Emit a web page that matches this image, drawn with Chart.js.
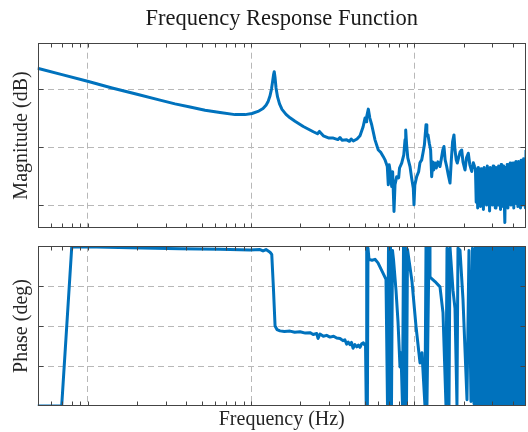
<!DOCTYPE html>
<html>
<head>
<meta charset="utf-8">
<script src="https://cdn.jsdelivr.net/npm/chart.js@4.4.0/dist/chart.umd.min.js"></script>
<style>
  html, body { margin: 0; padding: 0; background: #fff; overflow: hidden; }
  canvas { position: absolute; left: 0; }
</style>
</head>
<body>
<canvas id="mag" width="528" height="236" style="top:0"></canvas>
<canvas id="phase" width="528" height="196" style="top:236px"></canvas>
<script>
// magnitude (dB) vs frequency (Hz), below the noisy tail
const magFreq = [0.494, 0.698, 1.0, 1.412, 2.008, 2.776, 3.428, 4.234, 5.232, 6.462,
  7.985, 9.19, 10.14, 11.035, 11.84, 12.35, 12.7, 13.07, 13.35, 13.54,
  13.73, 13.87, 14.03, 14.22, 14.53, 14.94, 15.47, 16.37, 17.32, 18.58,
  20.88, 24.04, 25.5, 26.2, 27.69, 30, 31.87, 34, 35, 36,
  38.48, 40, 41, 42.24, 44.5, 46.42, 48.5, 49.81, 50.6, 51.0,
  52.18, 53.3, 54.73, 57.33, 60.06, 62, 64.45, 66, 68.17, 69.15,
  70, 70.83, 72.55, 73.5, 74.93, 76, 77.84, 80, 81, 83.5,
  86, 87.5, 88.37, 89.5, 91, 93.87, 96, 98.33, 99.3, 100.5,
  103.1, 106, 108, 110.7, 113, 115, 117.6, 119, 121, 123.2,
  125.5, 127.4, 129.5, 131, 133.5, 136, 139, 143.2, 146, 149,
  151.5, 154, 157.4, 161, 164.9, 168, 171, 174.4, 177, 180,
  182.7, 186, 190, 194.4, 198, 203.7, 208, 213.4, 218, 223.9,
  229, 233];
const magDb = [-12.8, -15.0, -17.3, -19.6, -21.8, -23.8, -25.1, -26.2, -27.3, -28.1,
  -28.8, -28.8, -28.4, -27.7, -26.7, -25.6, -24.4, -22.3, -19.9, -17.5,
  -15.1, -14.0, -16.1, -19.6, -22.7, -25.1, -27.0, -28.7, -29.9, -31.1,
  -32.9, -34.7, -35.4, -34.6, -36.1, -36.9, -36.9, -37.4, -36.7, -37.6,
  -37.5, -38.0, -37.2, -37.9, -37.2, -36.1, -33.0, -30.0, -31.3, -29.5,
  -26.9, -30.0, -32.3, -37.5, -41.0, -41.7, -43.3, -44.4, -46.7, -53.0,
  -46.1, -47.9, -53.6, -48.5, -62.2, -53.0, -50.2, -50.6, -47.2, -45.5,
  -42.7, -37.5, -34.1, -39.2, -43.7, -46.7, -50.6, -54.2, -59.9, -53.0,
  -50.2, -48.5, -45.4, -44.4, -41.7, -39.2, -32.3, -36.1, -35.8, -38.7,
  -41.0, -50.2, -45.1, -47.9, -45.5, -47.2, -45.1, -46.7, -44.0, -41.0,
  -39.8, -44.4, -46.7, -49.6, -52.4, -44.4, -38.2, -35.8, -41.0, -44.4,
  -45.5, -43.7, -41.7, -41.0, -45.1, -47.9, -43.7, -42.1, -46.1, -48.4,
  -45.4, -46.7];

// noisy high-frequency tail, shared frequency points
const bandFreq = [236, 238.5, 241, 243.5, 246, 248.5, 251, 253.5, 256, 258.5,
  261, 264, 267, 270, 273, 276, 279, 282, 285, 288,
  291, 294, 297, 300, 303, 306, 309, 312, 315, 318,
  321, 324, 327, 330, 333, 336, 339, 342, 345, 348,
  351, 354, 357, 361, 365, 369, 373, 377, 381, 385,
  389, 393, 397, 401, 405, 409, 413, 417, 421, 425,
  429, 433, 437, 441, 445, 449, 453, 457, 461, 465,
  469, 473, 477, 481];
const bandDb = [-47.5, -59, -48.5, -61, -47, -56, -49, -60.5, -47.5, -58,
  -48, -61.5, -47, -57.5, -49, -60, -46.5, -59, -48, -62,
  -47, -57, -48.5, -60, -46.5, -58.5, -48, -61, -47, -56.5,
  -48, -60, -46.5, -58, -47.5, -61.5, -46, -57, -48, -60.5,
  -46.5, -58, -66, -47, -59, -46, -61, -47.5, -57.5, -45.5,
  -60, -47, -58.5, -45.5, -61, -46.5, -57, -45, -59.5, -46,
  -60.5, -45, -57.5, -46, -61, -44.5, -58, -45.5, -60, -44,
  -58.5, -44.5, -61, -41];
const bandDeg = [179, -179, 179, -179, 179, -179, 179, -179, 179, -179,
  179, -179, 179, -179, 179, -179, 179, -179, 179, -179,
  179, -179, 179, -179, 179, -179, 179, -179, 179, -179,
  179, -179, 179, -179, 179, -179, 179, -179, 179, -179,
  179, -179, 179, -179, 179, -179, 179, -179, 179, -179,
  179, -179, 179, -179, 179, -179, 179, -179, 179, -179,
  179, -179, 179, -179, 179, -179, 179, -179, 179, -179,
  179, -179, 179, -179];

// phase (deg) vs frequency (Hz), below the noisy tail
const phFreq = [0.494, 0.6945, 0.8005, 1.138, 1.819, 3.679, 6.462, 9.86, 11.35, 11.84,
  12.35, 13.07, 13.39, 13.69, 14.03, 14.42, 15.04, 16, 17.32, 18.5,
  19.94, 21.5, 22.96, 24, 25.23, 25.7, 26.42, 27.69, 29, 30.42,
  32, 33.43, 35.03, 36.5, 37.5, 38.48, 39.3, 40.31, 41.2, 42.06,
  43.2, 44.32, 45.4, 46.42, 47.5, 48.64, 49.4, 50.16, 50.66, 51.01,
  51.51, 51.95, 52.69, 54.97, 57.33, 59.81, 64.17, 66.94, 68.37, 69.34,
  70.33, 71.32, 72.33, 73.35, 74.4, 77.07, 79.27, 81.53, 82.68, 84.45,
  85.64, 86.86, 88.1, 89.35, 90.62, 96.54, 102.1, 108.1, 111.1, 115.9,
  117.6, 119.2, 122.7, 124.4, 133.5, 143.2, 149.4, 155.8, 158.1, 162.6,
  164.9, 172, 176.9, 181.9, 184.5, 189.8, 198, 209.5, 215.4, 221.6,
  226.3, 231.2];
const phDeg = [-180, -180, 178.4, 178, 176, 174, 172.5, 171, 172, 169,
  172, 166, 161, 90, 0, -8, -11, -12.5, -11.5, -14,
  -13, -16, -15, -19, -17, -28, -18, -23, -21, -25,
  -23, -27, -28, -33, -31, -41, -36, -42, -37, -50,
  -42, -47, -43, -48, -40, -38, -42, -40, -180, 180,
  -178, 175, 150, 148, 150, 142, 119, 105, -180, 180,
  -175, 178, -178, 170, 150, 80, 10, -92, -60, -180,
  178, -175, 176, -179, 172, 100, 0, -83, -60, -180,
  178, -178, 178, 110, 100, 88, 30, -178, 175, -178,
  178, 80, 40, -178, 175, 171, 60, -166, 170, -170,
  175, -175];

const xMin = 0.494, xMax = 481;
const xGrid = [1, 10, 100];
const magGrid = [-60, -40, -20];
const phGrid = [-90, 0, 90];

const blue = '#0072BD';
const serif = "'Liberation Serif', 'Times New Roman', serif";
const textCol = '#262626';

// box round the axes with small inward ticks, like the original plot
const frame = {
  id: 'frame',
  afterDraw(chart) {
    const {ctx, chartArea: a, scales: {x, y}} = chart;
    const l = Math.round(a.left) + 0.5, r = Math.round(a.right) - 0.5;
    const t = Math.round(a.top) + 0.5, b = Math.round(a.bottom) - 0.5;
    ctx.save();
    ctx.strokeStyle = '#444';
    ctx.lineWidth = 1;
    ctx.beginPath();
    for (let d = 0.1; d < xMax; d *= 10) {
      for (let m = 1; m < 10; m++) {
        const v = m * d;
        if (v <= xMin || v >= xMax) continue;
        const px = Math.round(x.getPixelForValue(v)) + 0.5;
        ctx.moveTo(px, t); ctx.lineTo(px, t + 4);
        ctx.moveTo(px, b); ctx.lineTo(px, b - 4);
      }
    }
    y.ticks.forEach(tk => {
      const py = Math.round(y.getPixelForValue(tk.value)) + 0.5;
      ctx.moveTo(l, py); ctx.lineTo(l + 5, py);
      ctx.moveTo(r, py); ctx.lineTo(r - 5, py);
    });
    ctx.stroke();
    ctx.strokeRect(l, t, r - l, b - t);
    ctx.restore();
  }
};

function panel(id, xs, ys, yMin, yMax, yGrid, yTitle, opts) {
  return new Chart(document.getElementById(id), {
    type: 'line',
    data: {
      datasets: [{
        data: xs.map((f, i) => ({x: f, y: ys[i]})),
        borderColor: blue,
        borderWidth: 3,
        borderJoinStyle: 'round',
        pointRadius: 0,
        tension: 0
      }]
    },
    options: {
      responsive: false,
      animation: false,
      layout: {padding: opts.padding},
      plugins: {
        legend: {display: false},
        tooltip: {enabled: false},
        title: opts.title
      },
      scales: {
        x: {
          type: 'logarithmic',
          min: xMin,
          max: xMax,
          afterBuildTicks: ax => { ax.ticks = xGrid.map(v => ({value: v})); },
          ticks: {display: false},
          grid: {color: '#b8b8b8', drawTicks: false, tickLength: 0},
          border: {display: false, dash: [6, 4]},
          title: opts.xTitle
        },
        y: {
          min: yMin,
          max: yMax,
          afterBuildTicks: ax => { ax.ticks = yGrid.map(v => ({value: v})); },
          ticks: {display: false},
          grid: {color: '#b8b8b8', drawTicks: false, tickLength: 0},
          border: {display: false, dash: [6, 4]},
          title: {
            display: true,
            text: yTitle,
            color: textCol,
            font: {family: serif, size: 20},
            padding: {top: 3.5, bottom: 4}
          }
        }
      }
    },
    plugins: [frame]
  });
}

panel('mag', magFreq.concat(bandFreq), magDb.concat(bandDb), -68, -4, magGrid, 'Magnitude (dB)', {
  padding: {left: 6, right: 2, top: 0, bottom: 7.7},
  title: {
    display: true,
    text: 'Frequency Response Function',
    color: '#1a1a1a',
    fullSize: false,
    font: {family: serif, size: 22.5, weight: 'normal'},
    padding: {top: 5.5, bottom: 10.2}
  },
  xTitle: {display: false}
});

panel('phase', phFreq.concat(bandFreq), phDeg.concat(bandDeg), -180, 180, phGrid, 'Phase (deg)', {
  padding: {left: 6, right: 2, top: 10, bottom: 0},
  title: {display: false},
  xTitle: {
    display: true,
    text: 'Frequency (Hz)',
    color: textCol,
    font: {family: serif, size: 20},
    padding: {top: 2, bottom: 0}
  }
});
</script>
</body>
</html>
